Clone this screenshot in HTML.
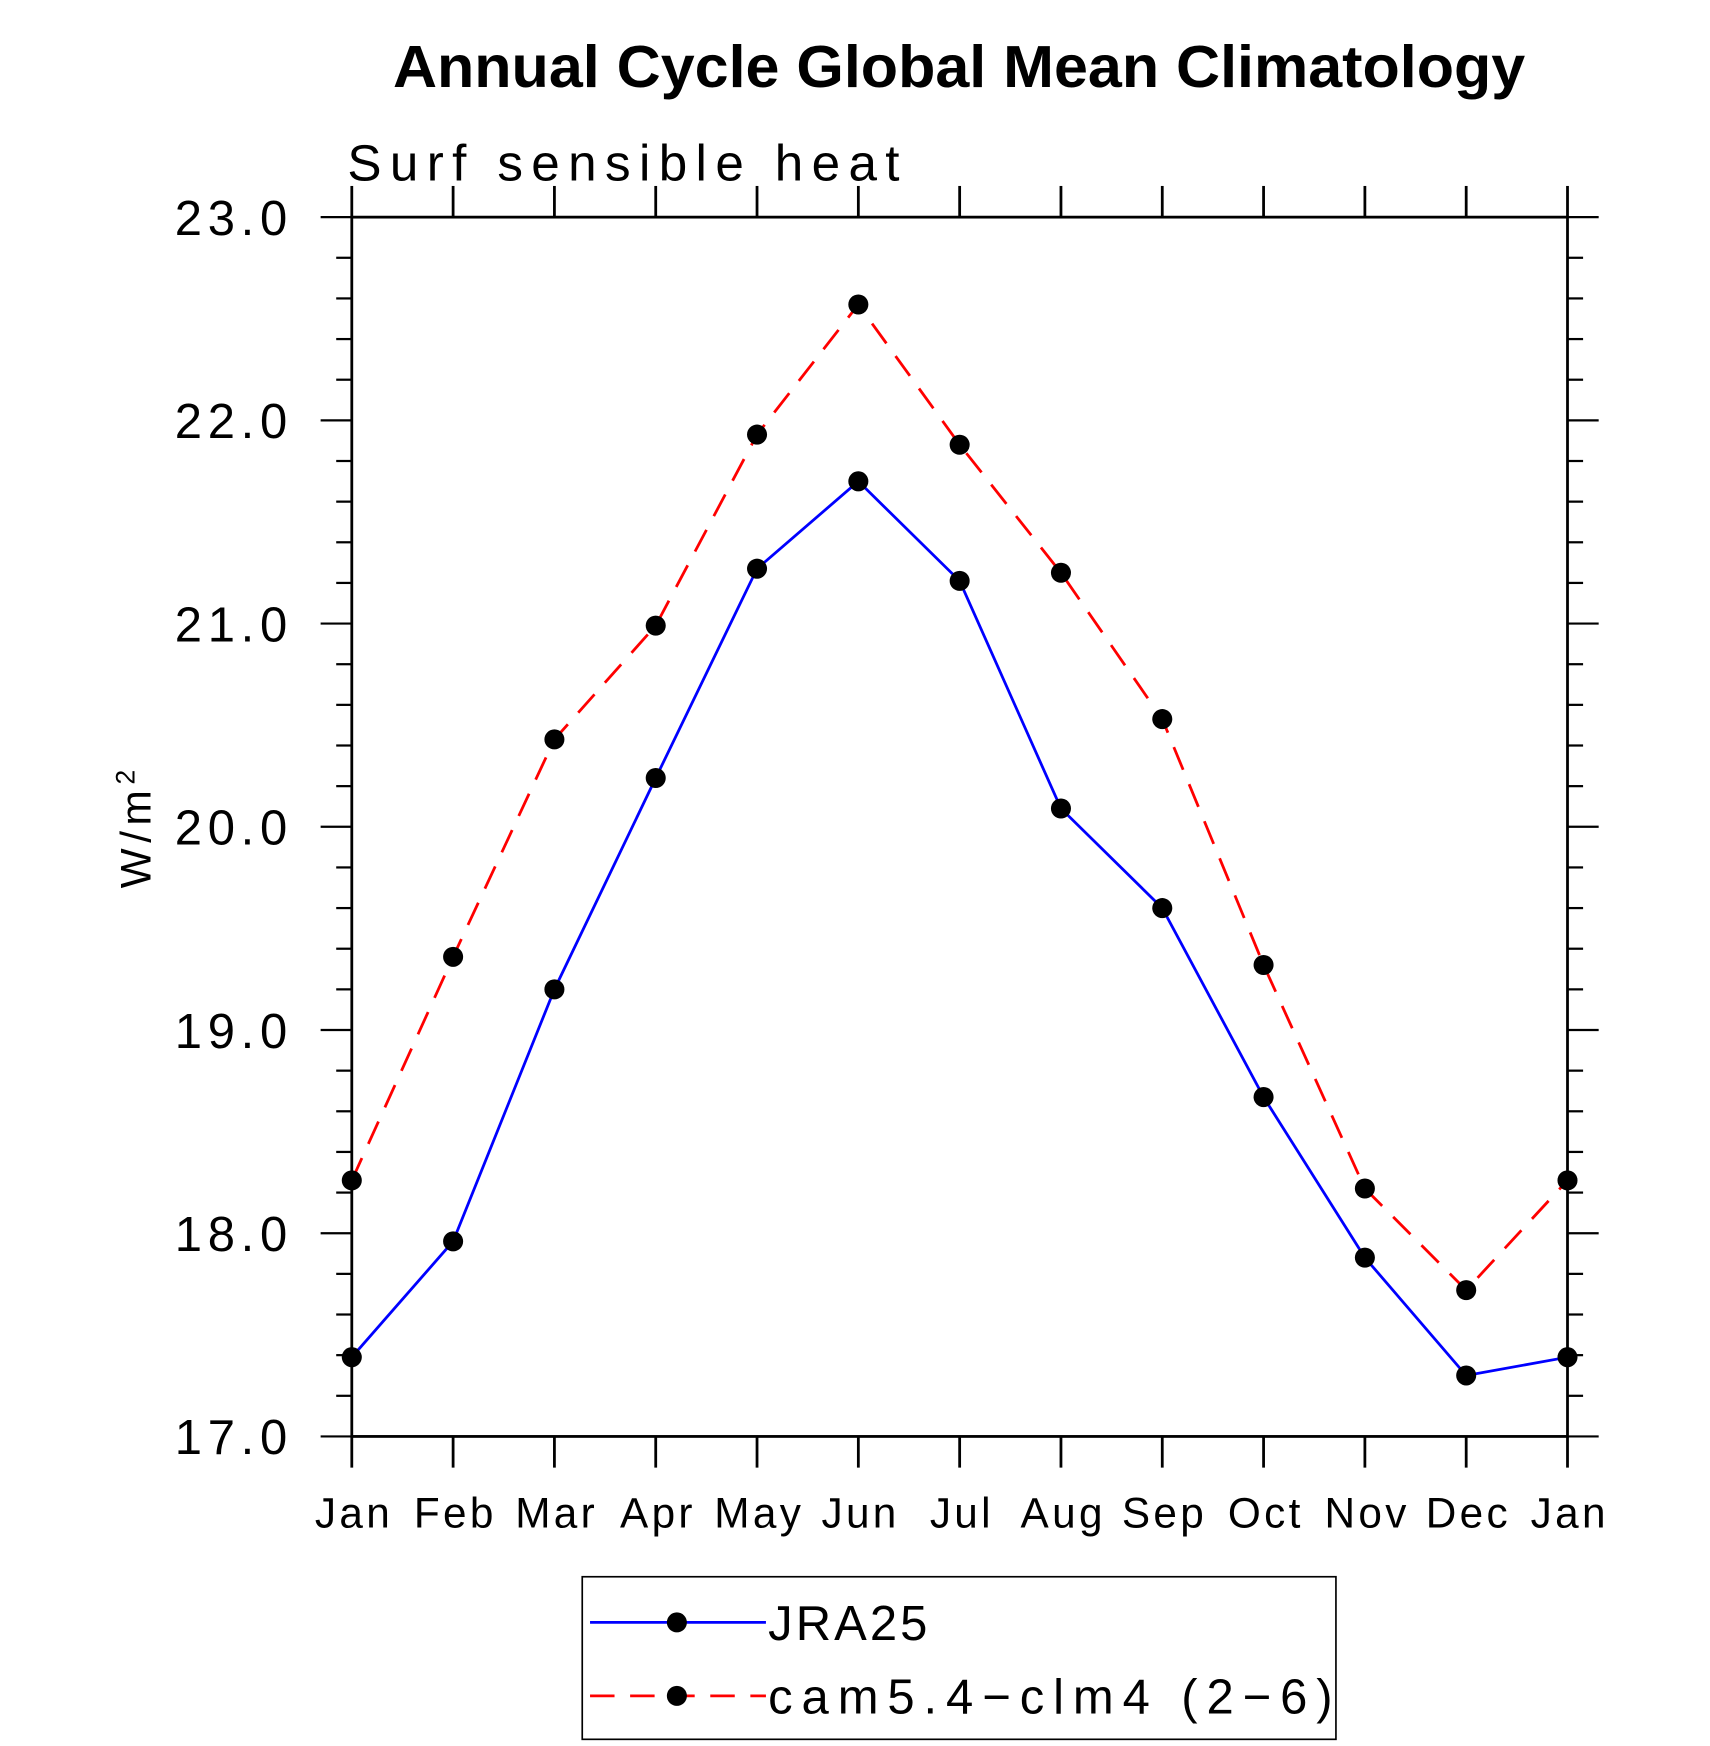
<!DOCTYPE html>
<html><head><meta charset="utf-8"><style>body{margin:0;background:#fff}svg{display:block}text{font-family:"Liberation Sans",sans-serif}</style></head>
<body>
<svg id="chart" width="1710" height="1746" viewBox="0 0 1536 1568" preserveAspectRatio="none" xmlns="http://www.w3.org/2000/svg">
<text x="353" y="78" textLength="1017" lengthAdjust="spacingAndGlyphs" font-size="53" font-weight="bold">Annual Cycle Global Mean Climatology</text>
<text x="312" y="162" textLength="496" lengthAdjust="spacing" font-size="46">Surf sensible heat</text>
<text transform="translate(135,742) rotate(-90)" text-anchor="middle" font-size="38" letter-spacing="5">W/m<tspan dy="-14" font-size="24">2</tspan></text>
<g id="axes"></g>
<g id="series"></g>
<g>
<rect x="523" y="1416" width="677" height="146" fill="none" stroke="#000" stroke-width="1.5"/>
<g>
<line x1="530" y1="1457" x2="688" y2="1457" stroke="#0000ff" stroke-width="2.5"/>
<circle cx="608" cy="1457" r="9"/>
<text x="690" y="1473" textLength="143" lengthAdjust="spacing" font-size="44">JRA25</text></g>
<g>
<line x1="530" y1="1523" x2="688" y2="1523" stroke="#ff0000" stroke-width="2.5" stroke-dasharray="22,14"/>
<circle cx="608" cy="1523" r="9"/>
<text x="690" y="1539" textLength="507" lengthAdjust="spacing" font-size="44">cam5.4−clm4 (2−6)</text></g>
</g>
</svg>
<script>
const months=["Jan","Feb","Mar","Apr","May","Jun","Jul","Aug","Sep","Oct","Nov","Dec","Jan"];
const jra25=[17.39,17.96,19.20,20.24,21.27,21.70,21.21,20.09,19.60,18.67,17.88,17.30,17.39];
const cam=[18.26,19.36,20.43,20.99,21.93,22.57,21.88,21.25,20.53,19.32,18.22,17.72,18.26];
const yTicks=["17.0","18.0","19.0","20.0","21.0","22.0","23.0"];
const NS="http://www.w3.org/2000/svg";
const L=316,R=1408,T=195,B=1290,ymin=17,ymax=23;
const xs=i=>L+(R-L)*i/12, ys=v=>B-(B-T)*(v-ymin)/(ymax-ymin);
function mk(tag,attrs,parent){const e=document.createElementNS(NS,tag);for(const k in attrs)e.setAttribute(k,attrs[k]);parent.appendChild(e);return e;}
const ax=document.getElementById('axes');
const frame=mk('rect',{x:L,y:T,width:R-L,height:B-T,fill:'none',stroke:'#000','stroke-width':2.5},ax);


months.forEach((m,i)=>{const x=xs(i);
mk('line',{x1:x,y1:B,x2:x,y2:B+28,stroke:'#000','stroke-width':2.5},ax);
mk('line',{x1:x,y1:T,x2:x,y2:T-28,stroke:'#000','stroke-width':2.5},ax);
const t=mk('text',{x:x+2,y:B+82,'text-anchor':'middle','font-size':38,'letter-spacing':3},ax);t.textContent=m;

});
for(let k=0;k<=30;k++){const v=ymin+k*0.2,y=ys(v),maj=k%5===0,len=maj?28:14;
mk('line',{x1:L,y1:y,x2:L-len,y2:y,stroke:'#000','stroke-width':2},ax);
mk('line',{x1:R,y1:y,x2:R+len,y2:y,stroke:'#000','stroke-width':2},ax);}
yTicks.forEach(s=>{const y=ys(parseFloat(s));const t=mk('text',{x:157,y:y+16,textLength:101,lengthAdjust:'spacing','font-size':44},ax);t.textContent=s;

});
const sg=document.getElementById('series');
function draw(data,color,dash,name){const g=mk('g',{},sg);


const p=mk('polyline',{points:data.map((v,i)=>xs(i)+','+ys(v)).join(' '),fill:'none',stroke:color,'stroke-width':2.5,'stroke-dasharray':dash},g);


data.forEach((v,i)=>{const c=mk('circle',{cx:xs(i),cy:ys(v),r:9,fill:'#000'},g);

});}
draw(jra25,'#0000ff','none','jra25-series');
draw(cam,'#ff0000','22,14','cam-series');
</script>
</body></html>
